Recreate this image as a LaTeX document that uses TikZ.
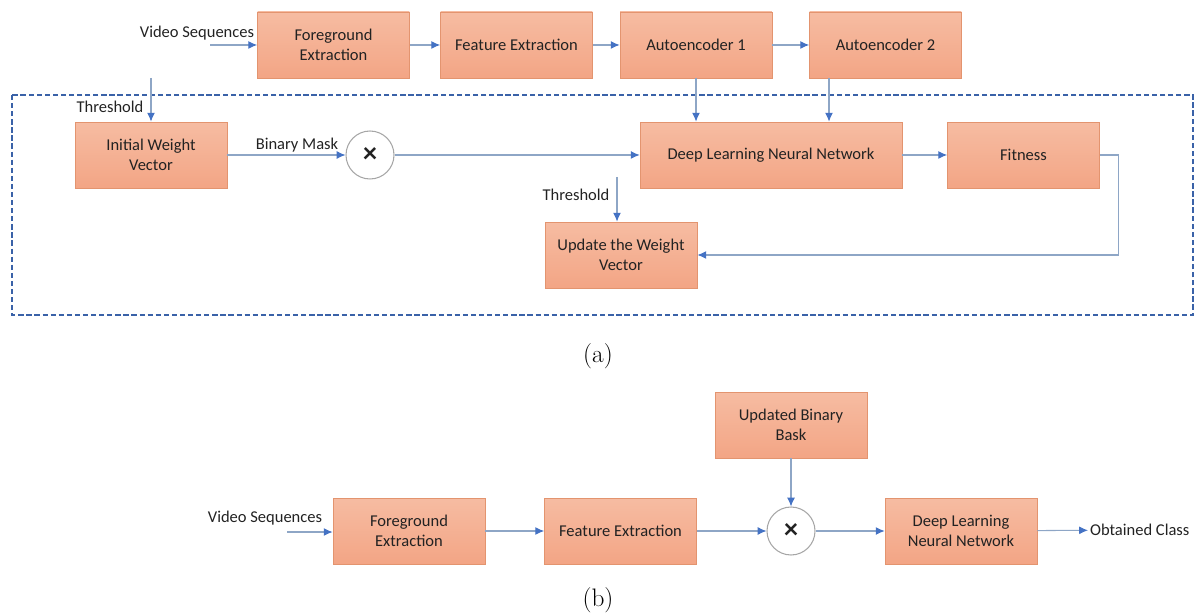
\documentclass[tikz,border=0pt]{standalone}
\usepackage{fontspec}
\setmainfont{Carlito}
\newfontfamily\capfont{Latin Modern Roman}
\usetikzlibrary{positioning,calc,arrows.meta}
\definecolor{Salmon}{HTML}{F3A585}
\definecolor{SalmonTop}{HTML}{F6BCA2}
\definecolor{SalmonEdge}{HTML}{E3946F}
\definecolor{LineGray}{HTML}{8EA6C6}
\definecolor{TipBlue}{HTML}{4472C4}
\definecolor{FrameBlue}{HTML}{3A62A8}
\definecolor{InkDark}{HTML}{222222}
\tikzset{
  flow box/.style={draw=SalmonEdge,thin,top color=SalmonTop,bottom color=Salmon,
    align=center,minimum height=1.32cm,minimum width=3.04cm,font=\fontsize{9.4}{11.6}\selectfont,
    text=InkDark,inner sep=3pt},
  flow label/.style={font=\fontsize{9.4}{11.6}\selectfont,text=InkDark,inner sep=1pt},
  flow arrow/.style={-{Latex[length=5pt,width=4.5pt,color=TipBlue]},line width=.6pt,draw=LineGray},
  flow line/.style={line width=.6pt,draw=LineGray},
  mult node/.style={circle,draw=gray!70,line width=.6pt,fill=white,minimum size=.96cm,
    inner sep=0pt,font=\bfseries\fontsize{16}{16}\selectfont,text=InkDark},
  frame line/.style={draw=FrameBlue,line width=.9pt,dash pattern=on 3pt off 1.6pt},
  caption label/.style={font=\capfont\fontsize{14.4}{17}\selectfont}
}
\begin{document}
\begin{tikzpicture}[x=0.02cm,y=-0.02cm]
  \useasboundingbox (0,0) rectangle (1196,614);
  % (a) training stage
  \node[flow label] (videoA) at (197,33) {Video Sequences};
  \coordinate (videoAin) at (210,45);
  \node[flow box] (foreA) at (333.5,45) {Foreground\\Extraction};
  \node[flow box] (featA) at (516.5,45) {Feature Extraction};
  \node[flow box] (autoA) at (696,45) {Autoencoder 1};
  \node[flow box] (autoB) at (885.5,45) {Autoencoder 2};
  \draw[frame line] (12,95) rectangle (1193,315);
  \coordinate (thrA) at (151,78);
  \node[flow label] (thrAtext) at (110,107) {Threshold};
  \node[flow box] (initW) at (151,155) {Initial Weight\\Vector};
  \node[flow label] (maskA) at (297,145) {Binary Mask};
  \node[mult node] (mulA) at (370,155) {×};
  \node[flow box,minimum width=5.24cm] (dlnnA) at (771,155) {Deep Learning Neural Network};
  \node[flow box] (fit) at (1023.5,155) {Fitness};
  \node[flow label] (thrBtext) at (576,195) {Threshold};
  \coordinate (thrB) at (617,177);
  \coordinate (autoBout) at (829,78);
  \node[flow box] (updW) at (621,255) {Update the Weight\\Vector};
  \node[caption label] (capA) at (598,356) {(a)};
  \draw[flow arrow] (videoAin) -- (foreA);
  \draw[flow arrow] (foreA) -- (featA);
  \draw[flow arrow] (featA) -- (autoA);
  \draw[flow arrow] (autoA) -- (autoB);
  \draw[flow arrow] (thrA) -- (initW);
  \draw[flow arrow] (initW) -- (mulA);
  \draw[flow arrow] (mulA) -- (dlnnA);
  \draw[flow arrow] (autoA.south) -- (autoA.south |- dlnnA.north);
  \draw[flow arrow] (autoBout) -- (autoBout |- dlnnA.north);
  \draw[flow arrow] (dlnnA) -- (fit);
  \draw[flow arrow] (thrB) -- (thrB |- updW.north);
  \draw[flow arrow] (fit.east) -- ++(19,0) |- (updW.east);
  % (b) testing stage
  \node[flow label] (videoB) at (265,518) {Video Sequences};
  \coordinate (videoBin) at (287,532);
  \node[flow box] (foreB) at (409,531) {Foreground\\Extraction};
  \node[flow box] (featB) at (620.5,531) {Feature Extraction};
  \node[flow box] (maskB) at (791,425) {Updated Binary\\Bask};
  \node[mult node] (mulB) at (791,531) {×};
  \node[flow box] (dlnnB) at (961,531) {Deep Learning\\Neural Network};
  \node[flow label,anchor=west] (classB) at (1088,530) {Obtained Class};
  \node[caption label] (capB) at (598,600) {(b)};
  \draw[flow arrow] (videoBin) -- (foreB.west |- videoBin);
  \draw[flow arrow] (foreB) -- (featB);
  \draw[flow arrow] (featB) -- (mulB);
  \draw[flow arrow] (maskB) -- (mulB);
  \draw[flow arrow] (mulB) -- (dlnnB);
  \draw[flow arrow] (dlnnB) -- (classB);
\end{tikzpicture}
\end{document}
